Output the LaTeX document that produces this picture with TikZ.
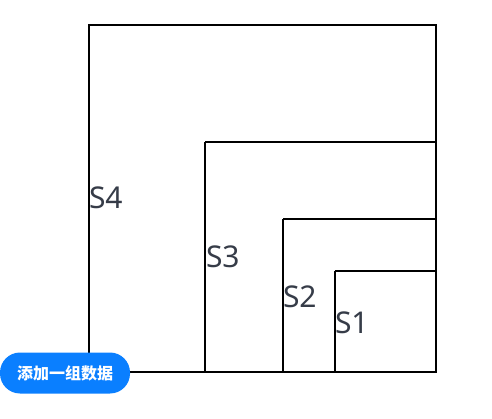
\documentclass[tikz,border=0pt]{standalone}
\usepackage{fontspec}
\setmainfont{Noto Sans}
\newfontfamily\cjk{Noto Sans CJK SC}
\definecolor{btnblue}{HTML}{0A7FFF}
\definecolor{labelgray}{HTML}{363C48}
\tikzset{
  sqlabel/.style={anchor=base west,inner sep=0pt,text=labelgray,font=\fontsize{30}{30}\selectfont},
  addbtn/.style={fill=btnblue,rounded corners=20pt,text=white,font=\cjk\bfseries\fontsize{16}{16}\selectfont,minimum width=130pt,minimum height=41pt,inner sep=0pt}
}
\begin{document}
\begin{tikzpicture}[x=1pt,y=-1pt,line width=2pt]
\useasboundingbox (0,0) rectangle (492,419);
\draw (89,25) rectangle (436,372);
\draw (205,142) -- (436,142);
\draw (205,142) -- (205,372);
\draw (283,219) -- (436,219);
\draw (283,219) -- (283,372);
\draw (335,271) -- (436,271);
\draw (335,271) -- (335,372);
\node[sqlabel] (s4) at (88,209) {S4};
\node[sqlabel] (s3) at (205,268) {S3};
\node[sqlabel] (s2) at (282,307) {S2};
\node[sqlabel] (s1) at (334,333) {S1};
\node[addbtn] (add) at (65,373) {添加一组数据};
\end{tikzpicture}
\end{document}
